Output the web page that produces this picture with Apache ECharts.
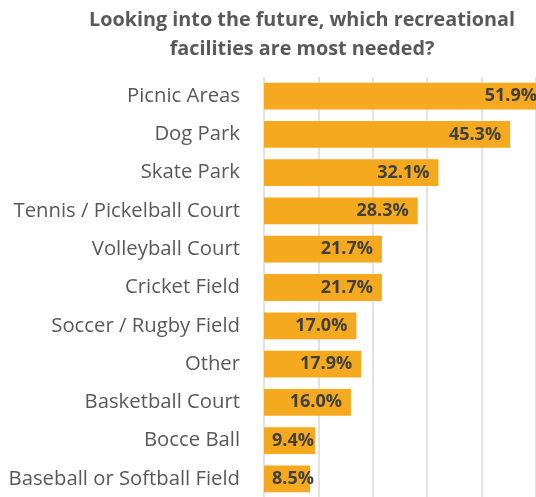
<!DOCTYPE html>
<html>
<head>
<meta charset="utf-8">
<script src="https://cdn.jsdelivr.net/npm/echarts@6/dist/echarts.min.js"></script>
<style>
html, body { margin: 0; padding: 0; background: #fff; }
#chart { width: 536px; height: 497px; }
</style>
</head>
<body>
<div id="chart"></div>
<script>
// Survey answers, top to bottom as listed
const facilities = [
  'Picnic Areas',
  'Dog Park',
  'Skate Park',
  'Tennis / Pickelball Court',
  'Volleyball Court',
  'Cricket Field',
  'Soccer / Rugby Field',
  'Other',
  'Basketball Court',
  'Bocce Ball',
  'Baseball or Softball Field'
];
const percentages = [51.9, 45.3, 32.1, 28.3, 21.7, 21.7, 17.0, 17.9, 16.0, 9.4, 8.5];
const titleLines = [
  'Looking into the future, which recreational',
  'facilities are most needed?'
];

const FONT = '"Open Sans", Lato, sans-serif';

// short bars can't hold their label at the end, so it starts from the bar's base
const barData = percentages.map(v => (
  v < 12
    ? { value: v, label: { position: 'insideLeft', distance: 8 } }
    : { value: v }
));

const chart = echarts.init(document.getElementById('chart'));
chart.setOption({
  animation: false,
  backgroundColor: '#ffffff',
  title: {
    text: titleLines.join('\n'),
    left: 297,
    top: 1,
    textAlign: 'center',
    textStyle: {
      fontFamily: FONT,
      fontSize: 19.8,
      fontWeight: 'bold',
      color: '#595959',
      lineHeight: 29
    }
  },
  // the plot runs past the right and bottom edges of the canvas
  grid: {
    left: 264,
    top: 77,
    width: 326,
    height: 421,
    outerBoundsMode: 'none',
    containLabel: false
  },
  xAxis: {
    type: 'value',
    min: 0,
    max: 60,
    interval: 10,
    axisLabel: { show: false },
    axisLine: { show: false },
    axisTick: { show: false },
    splitLine: { lineStyle: { color: '#d9d9d9', width: 1.5 } }
  },
  yAxis: {
    type: 'category',
    inverse: true,
    data: facilities,
    axisLine: { show: false },
    axisTick: { show: false },
    axisLabel: {
      margin: 24,
      fontFamily: FONT,
      fontSize: 20.3,
      color: '#595959'
    }
  },
  series: [{
    type: 'bar',
    data: barData,
    barCategoryGap: '30%',
    itemStyle: { color: '#F5A91F' },
    label: {
      show: true,
      position: 'insideRight',
      distance: 9,
      formatter: p => p.value.toFixed(1) + '%',
      fontFamily: FONT,
      fontSize: 18,
      fontWeight: 'bold',
      color: '#404040'
    }
  }]
});
</script>
</body>
</html>
